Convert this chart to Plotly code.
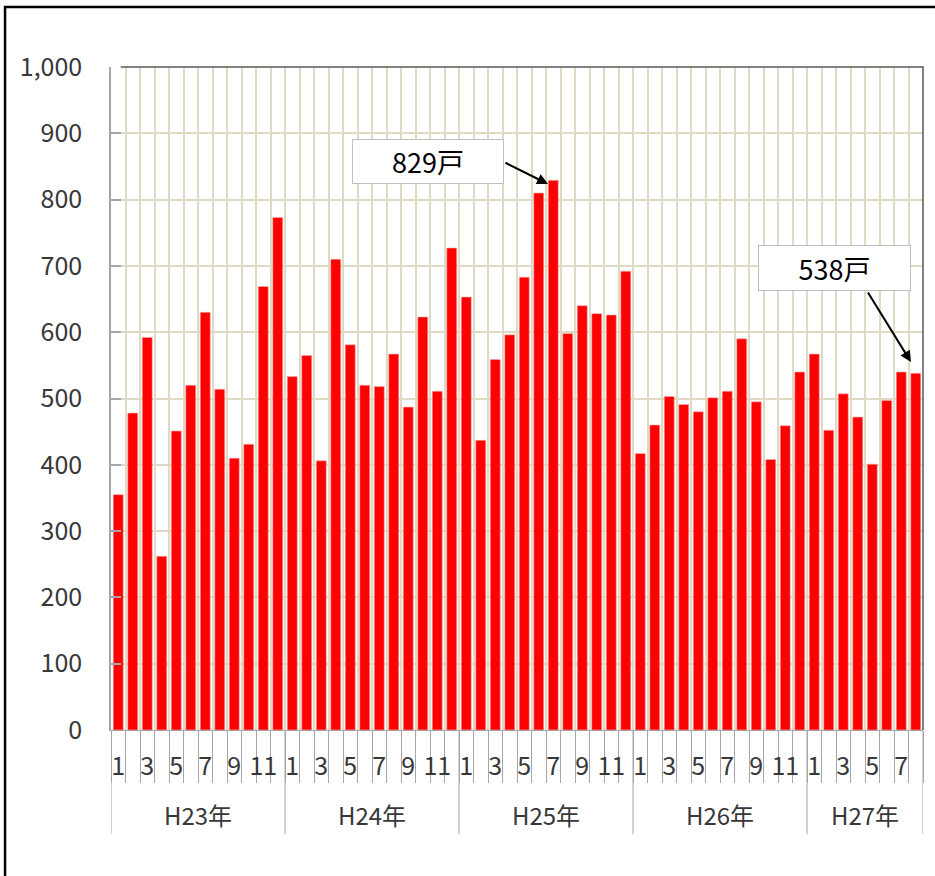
import plotly.graph_objects as go

# ---- data ----
years = ["H23年", "H24年", "H25年", "H26年", "H27年"]
months_in_year = [12, 12, 12, 12, 8]
h23 = [355, 478, 592, 262, 451, 520, 630, 514, 410, 431, 669, 773]
h24 = [533, 565, 406, 710, 581, 520, 518, 567, 487, 623, 511, 727]
h25 = [653, 437, 559, 596, 683, 810, 829, 598, 640, 628, 626, 692]
h26 = [417, 460, 503, 491, 480, 501, 511, 590, 495, 408, 459, 540]
h27 = [567, 452, 507, 472, 401, 497, 540, 538]
y_ticks = [0, 100, 200, 300, 400, 500, 600, 700, 800, 900, 1000]
callouts = ["829戸", "538戸"]

series = [h23, h24, h25, h26, h27]
values = [v for s in series for v in s]
months = [m + 1 for n in months_in_year for m in range(n)]
xs = list(range(len(values)))

FONT = "Noto Sans CJK JP"
TXT = "#383838"
GRID = "#DEDAC4"
AXIS = "#A6A6A6"

fig = go.Figure()
fig.add_trace(go.Bar(
    x=xs, y=values,
    marker=dict(color="#FF0000", line=dict(color="#FFB0B0", width=0.6)),
    hoverinfo="y",
))

tickvals = [x for x, m in zip(xs, months) if m % 2 == 1]
ticktext = [str(m) for m in months if m % 2 == 1]

n = len(values)
fig.update_layout(
    width=935, height=876,
    margin=dict(l=111, r=12, t=67, b=146),
    paper_bgcolor="white", plot_bgcolor="white",
    bargap=0.31,
    showlegend=False,
    font=dict(family=FONT, color=TXT, size=25),
    xaxis=dict(
        range=[-0.5, n - 0.5],
        tickmode="array", tickvals=tickvals, ticktext=ticktext,
        ticks="outside", ticklen=1, tickcolor="rgba(0,0,0,0)",
        showgrid=False, zeroline=False,
        showline=True, linecolor=AXIS, linewidth=1,
        ticklabelstandoff=13,
        tickfont=dict(family=FONT, size=25, color=TXT),
        minor=dict(tick0=-0.5, dtick=1, ticks="outside", ticklen=52,
                   tickcolor=AXIS, tickwidth=1,
                   showgrid=True, gridcolor=GRID, gridwidth=1.5),
    ),
    yaxis=dict(
        range=[0, 1000], tickmode="array", tickvals=y_ticks,
        tickformat=",", showgrid=True, gridcolor=GRID, gridwidth=1.5,
        zeroline=False, showline=True, linecolor=AXIS, linewidth=1.5,
        ticks="inside", ticklen=10, tickcolor=AXIS, tickwidth=1.5,
        ticklabelstandoff=22,
        tickfont=dict(family=FONT, size=25, color=TXT),
    ),
)

# year group labels and separators
start = 0
bounds = [-0.5]
for yr, cnt in zip(years, months_in_year):
    center = start + (cnt - 1) / 2
    fig.add_annotation(x=center, y=-0.128, xref="x", yref="paper",
                       yanchor="middle", xanchor="center",
                       text=yr, showarrow=False,
                       font=dict(family=FONT, size=24, color=TXT))
    start += cnt
    bounds.append(start - 0.5)
for b in bounds:
    fig.add_shape(type="line", xref="x", yref="paper", x0=b, x1=b,
                  y0=0, y1=-0.157, line=dict(color=AXIS, width=1))

# plot area border (top / right)
fig.add_shape(type="path", xref="paper", yref="paper",
              path="M 0.012 1 L 1 1 L 1 0",
              line=dict(color="#595959", width=1.5))

# outer frame
fig.add_shape(type="path", xref="paper", yref="paper",
              path="M -0.1305 -0.4 L -0.1305 1.0905 L 1.1 1.0905",
              line=dict(color="black", width=2.5))

# callout boxes
fig.add_annotation(x=21.36, y=857.5, xref="x", yref="y", text=callouts[0],
                   showarrow=False, width=150, height=43, borderpad=0,
                   bgcolor="white", bordercolor="#BFBFBF", borderwidth=1,
                   font=dict(family=FONT, size=27, color="black"))
fig.add_annotation(x=49.43, y=696.8, xref="x", yref="y", text=callouts[1],
                   showarrow=False, width=151, height=44, borderpad=0,
                   bgcolor="white", bordercolor="#BFBFBF", borderwidth=1,
                   font=dict(family=FONT, size=27, color="black"))

# arrows
fig.add_annotation(x=29.64, y=823.5, ax=26.6, ay=856.7, xref="x", yref="y",
                   axref="x", ayref="y", text="", showarrow=True,
                   arrowhead=2, arrowsize=1.1, arrowwidth=2, arrowcolor="black")
fig.add_annotation(x=54.67, y=555, ax=51.64, ay=662, xref="x", yref="y",
                   axref="x", ayref="y", text="", showarrow=True,
                   arrowhead=2, arrowsize=1.1, arrowwidth=2, arrowcolor="black")

fig.write_html("out.html", config={"displayModeBar": False},
               post_script="document.body.style.margin='0';document.body.style.padding='0';")
